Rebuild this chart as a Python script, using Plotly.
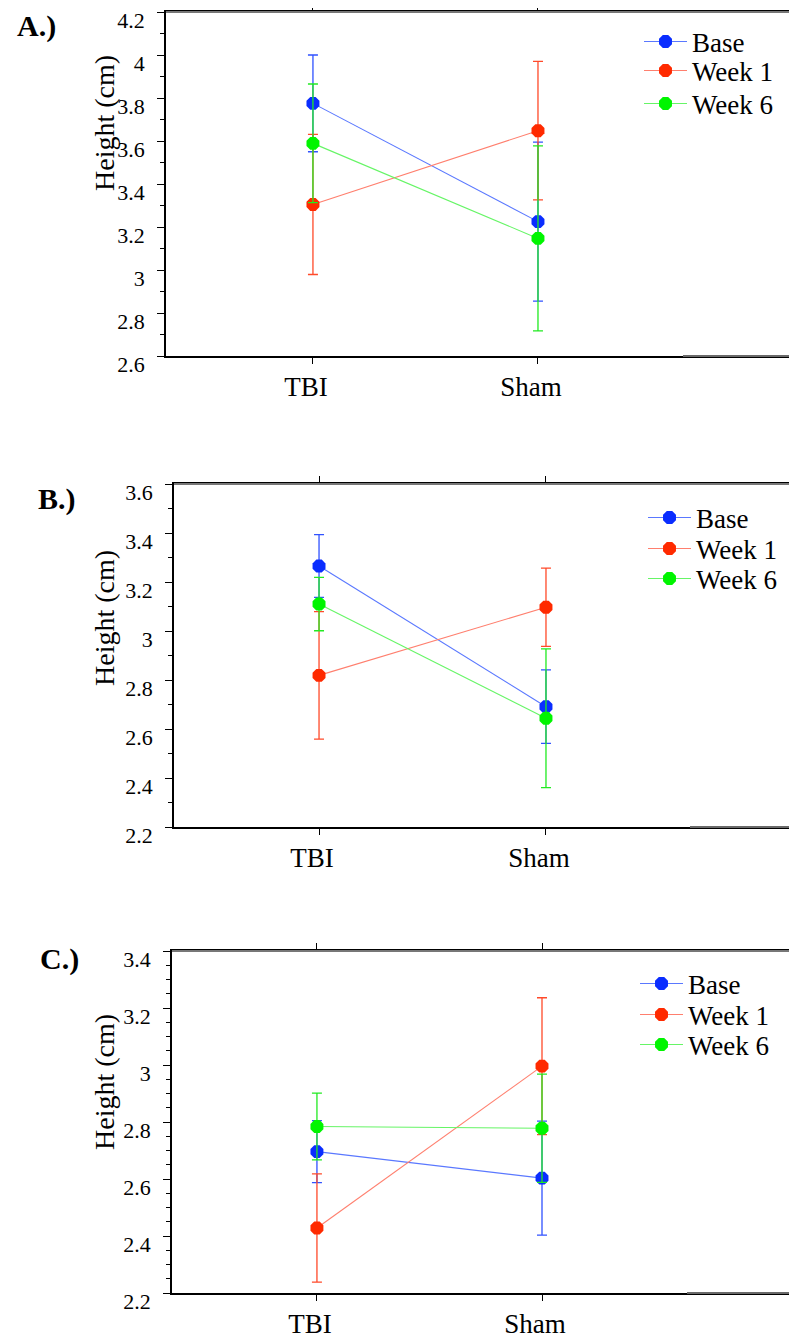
import plotly.graph_objects as go

# ---------------- data ----------------
categories = ["TBI", "Sham"]
series_names = ["Base", "Week 1", "Week 6"]

A_base = [3.775, 3.225]
A_base_err = [0.225, 0.370]
A_week1 = [3.305, 3.648]
A_week1_err = [0.326, 0.322]
A_week6 = [3.589, 3.147]
A_week6_err = [0.276, 0.430]

B_base = [3.265, 2.691]
B_base_err = [0.128, 0.150]
B_week1 = [2.819, 3.097]
B_week1_err = [0.260, 0.160]
B_week6 = [3.110, 2.644]
B_week6_err = [0.109, 0.283]

C_base = [2.696, 2.603]
C_base_err = [0.109, 0.200]
C_week1 = [2.428, 2.996]
C_week1_err = [0.190, 0.240]
C_week6 = [2.784, 2.778]
C_week6_err = [0.117, 0.190]

panel_labels = ["A.)", "B.)", "C.)"]
y_title = "Height (cm)"

# ---------------- styles ----------------
W, H = 797, 1341
OFF = 8  # page body margin
FONT = '"Liberation Serif", "Times New Roman", Times, serif'
marker_colors = ["#0a2dff", "#ff2a00", "#00f500"]
line_colors = ["#5a78ff", "#ff7f6e", "#66f566"]
err_colors = ["#3052ff", "#ff4a2a", "#22ea22"]

def fx(px):
    return (px - OFF) / W

def fy(py):
    return 1 - (py - OFF) / H

panels = [
    dict(vals=[(A_base, A_base_err), (A_week1, A_week1_err), (A_week6, A_week6_err)],
         left=166, top=12, bottom=356, xr=[-0.653, 2.151], yr=[2.6, 4.2], minor=0.1,
         gray_from=683, leg_x=639, leg_y=[42, 71, 104], title_y=123, label_y=26, label_x=36),
    dict(vals=[(B_base, B_base_err), (B_week1, B_week1_err), (B_week6, B_week6_err)],
         left=174, top=484, bottom=827, xr=[-0.639, 2.106], yr=[2.2, 3.6], minor=0.1,
         gray_from=690, leg_x=643, leg_y=[518, 549, 579], title_y=618, label_y=499, label_x=57),
    dict(vals=[(C_base, C_base_err), (C_week1, C_week1_err), (C_week6, C_week6_err)],
         left=172, top=951, bottom=1293, xr=[-0.644, 2.133], yr=[2.2, 3.4], minor=0.05,
         gray_from=687, leg_x=635, leg_y=[984, 1015, 1045], title_y=1082, label_y=959, label_x=59),
]

fig = go.Figure()
layout = dict(
    width=W, height=H,
    margin=dict(l=0, r=0, t=0, b=0, autoexpand=False),
    paper_bgcolor="white", plot_bgcolor="white",
    font=dict(family=FONT, color="black"),
    showlegend=True,
    annotations=[], shapes=[],
)

leg_idx = 0
for i, p in enumerate(panels):
    n = "" if i == 0 else str(i + 1)
    xa, ya = "x" + n, "y" + n
    for k, (vals, errs) in enumerate(p["vals"]):
        leg_idx += 1
        leg_name = "legend" if leg_idx == 1 else "legend" + str(leg_idx)
        fig.add_trace(go.Scatter(
            x=categories, y=vals, xaxis=xa, yaxis=ya,
            mode="lines+markers", name=series_names[k],
            legend=leg_name, showlegend=True,
            line=dict(color=line_colors[k], width=1.1),
            marker=dict(color=marker_colors[k], size=14, symbol="octagon",
                        line=dict(width=0)),
            error_y=dict(type="data", array=errs, visible=True,
                         color=err_colors[k], thickness=1.3, width=5),
        ))
        layout[leg_name] = dict(
            x=fx(p["leg_x"]), y=fy(p["leg_y"][k]), xanchor="left", yanchor="middle",
            bgcolor="rgba(0,0,0,0)", borderwidth=0, itemwidth=43,
            font=dict(family=FONT, size=27, color="black"),
        )
    right_dom = (W - OFF) / W
    layout["xaxis" + n] = dict(
        domain=[fx(p["left"]), right_dom], range=p["xr"], type="category",
        anchor=ya, showline=True, linecolor="black", linewidth=1.5,
        mirror="ticks", ticks="outside", ticklen=6, tickcolor="black",
        showgrid=False, zeroline=False, ticklabelstandoff=0, ticklabelshift=-7,
        automargin=False, ticklabeloverflow="allow",
        tickfont=dict(family=FONT, size=27, color="black"),
    )
    layout["yaxis" + n] = dict(
        domain=[fy(p["bottom"]), fy(p["top"])], range=p["yr"], anchor=xa,
        showline=True, linecolor="black", linewidth=1.5,
        ticks="outside", ticklen=7, tickcolor="black",
        tick0=p["yr"][0], dtick=0.2,
        minor=dict(ticks="outside", ticklen=4, dtick=p["minor"], tickcolor="black",
                   showgrid=False),
        showgrid=False, zeroline=False, ticklabelstandoff=8, ticklabelshift=8,
        automargin=False, ticklabeloverflow="allow",
        tickfont=dict(family=FONT, size=22, color="black"),
    )
    # y-axis title
    layout["annotations"].append(dict(
        text=y_title, textangle=-90, xref="paper", yref="paper",
        x=fx(104), y=fy(p["title_y"]), xanchor="center", yanchor="middle",
        showarrow=False, font=dict(family=FONT, size=28, color="black"),
    ))
    # panel label
    layout["annotations"].append(dict(
        text="<b>" + panel_labels[i] + "</b>", xref="paper", yref="paper",
        x=fx(p["label_x"]), y=fy(p["label_y"]), xanchor="center", yanchor="middle",
        showarrow=False, font=dict(family=FONT, size=30, color="black"),
    ))
    # grey frame parts (top border, right part of bottom border)
    layout["shapes"].append(dict(
        type="line", xref=xa + " domain", yref=ya + " domain",
        x0=0, x1=1, y0=1, y1=1, line=dict(color="#777777", width=2), layer="above"))
    gfrac = (p["gray_from"] - p["left"]) / (W - p["left"])
    layout["shapes"].append(dict(
        type="line", xref=xa + " domain", yref=ya + " domain",
        x0=gfrac, x1=1, y0=0, y1=0, line=dict(color="#6a6a6a", width=2), layer="above"))

fig.update_layout(**layout)
fig.write_html("out.html")
